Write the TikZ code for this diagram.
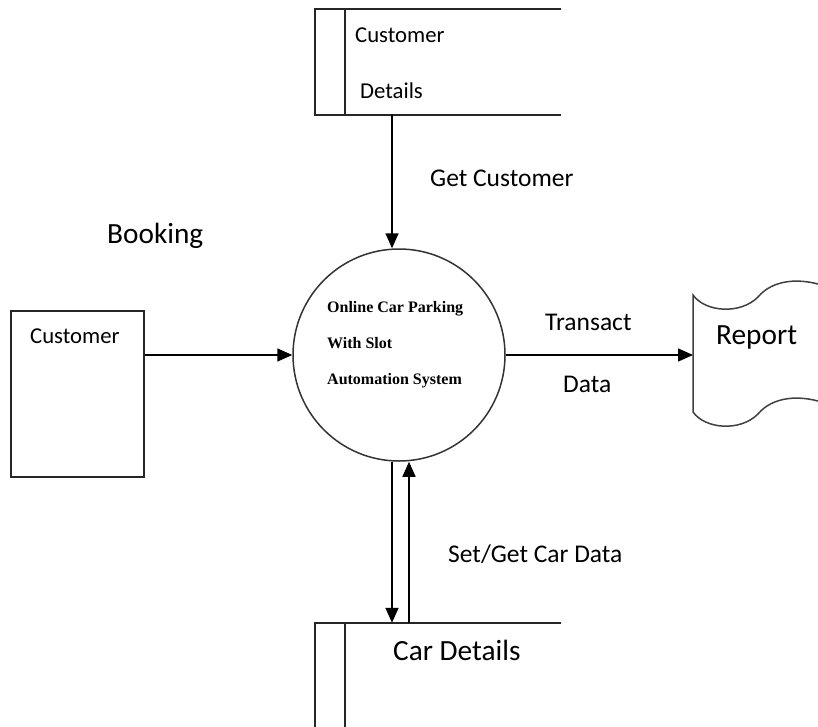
\documentclass[tikz,border=0pt]{standalone}
\usepackage{fontspec}
\setmainfont{Carlito}
\newfontfamily\procfont{Liberation Serif}
\usetikzlibrary{arrows.meta,positioning,calc}

\begin{document}
\begin{tikzpicture}[
  x=1pt,y=-1pt,
  txtS/.style={inner sep=0pt,anchor=base west,font=\fontsize{22.7}{27}\selectfont},
  txtM/.style={inner sep=0pt,anchor=base west,font=\fontsize{25.5}{30}\selectfont},
  txtL/.style={inner sep=0pt,anchor=base west,font=\fontsize{29.3}{35}\selectfont},
  proctxt/.style={inner sep=0pt,anchor=base west,font=\procfont\bfseries\fontsize{16}{19}\selectfont},
  store/.style={inner sep=0pt,minimum width=246pt},
  edge/.style={line width=1.8pt,draw=black!85},
  arrow/.style={-{Triangle[length=15pt,width=13pt]},line width=1.5pt}
]
\fill[white] (0,0) rectangle (818,726);
\clip (0,0) rectangle (818,726);
\node[circle,draw=black!80,line width=1.5pt,minimum size=212pt,inner sep=0pt] (proc) at (399,355) {};
\foreach \y/\t in {312/Online Car Parking,348/With Slot,384/Automation System}
  \node[proctxt] (proc-\y) at (327,\y) {\t};
\node[edge,draw,minimum width=133pt,minimum height=166pt,inner sep=0pt] (cust) at (77.5,394) {};
\node[txtS] (custname) at (30,343) {Customer};
\node[store,minimum height=106pt] (cstore) at (438,62) {};
\node[store,minimum height=104pt] (cardb) at (438,675) {};
\draw[edge] (cstore.north east) -- (cstore.north west) -- (cstore.south west) -- (cstore.south east);
\draw[edge] ([xshift=30pt]cstore.north west) -- ([xshift=30pt]cstore.south west);
\draw[edge] (cardb.north east) -- (cardb.north west) -- (cardb.south west);
\draw[edge] ([xshift=30pt]cardb.north west) -- ([xshift=30pt]cardb.south west);
\node[txtS] (cstoreA) at (355,42) {Customer};
\node[txtS] (cstoreB) at (360,98) {Details};
\node[txtL] (cardbtxt) at (393,660) {Car Details};
\coordinate (repin) at (693,355);
\draw[line width=1.5pt,draw=black!75]
  (830,288) .. controls (800,276) and (772,280) .. (758,297) .. controls (740,315) and (705,312) .. (693,295)
  -- (693,412) .. controls (705,429) and (740,432) .. (758,414) .. controls (772,397) and (800,393) .. (830,405);
\node[txtL] (reptxt) at (716,344) {Report};
\coordinate (gx) at (392,0);
\coordinate (ux) at (409,0);
\draw[arrow] (cstore.south -| gx) -- (proc.north -| gx); \draw[arrow] (cust.east |- proc) -- (proc.west);
\draw[arrow] (proc.east) -- (repin);
\draw[arrow] (proc.south -| gx) -- (cardb.north -| gx); \draw[arrow] (cardb.north -| ux) -- (proc.south -| ux);
\node[txtM] (getlbl) at (430,186) {Get Customer};
\node[txtL] (booklbl) at (107,243) {Booking};
\node[txtM] (translbl) at (545,330) {Transact};
\node[txtM] (datalbl) at (563,392) {Data};
\node[txtM] (setlbl) at (448,562) {Set/Get Car Data};
\end{tikzpicture}
\end{document}
